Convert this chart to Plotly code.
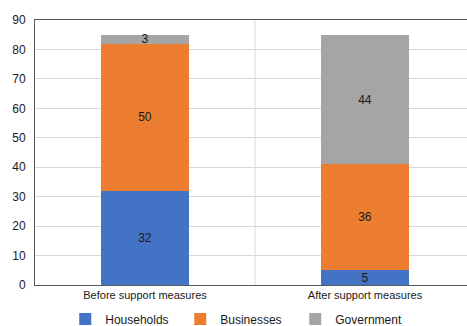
import plotly.graph_objects as go

categories = ["Before support measures", "After support measures"]
households = [32, 5]
businesses = [50, 36]
government = [3, 44]
y_ticks = [0, 10, 20, 30, 40, 50, 60, 70, 80, 90]

font_family = "Liberation Sans, Arial, sans-serif"

fig = go.Figure()
series = [
    ("Households", households, "#4472C4"),
    ("Businesses", businesses, "#ED7D31"),
    ("Government", government, "#A5A5A5"),
]
for name, vals, color in series:
    fig.add_trace(go.Bar(
        x=categories, y=vals, name=name,
        marker=dict(color=color, line=dict(width=0)),
        text=[str(v) for v in vals], textposition="inside",
        insidetextanchor="middle", textangle=0,
        textfont=dict(color="#1a1a1a", size=12, family=font_family),
        width=0.4,
    ))

fig.update_layout(
    barmode="stack",
    width=467, height=326,
    margin=dict(l=35, r=0, t=20, b=41, autoexpand=False),
    paper_bgcolor="white", plot_bgcolor="white",
    font=dict(family=font_family, size=11, color="#1a1a1a"),
    uniformtext=dict(minsize=12, mode="show"),
    showlegend=True,
    legend=dict(orientation="h", x=0.07, xanchor="left", y=-0.074, yanchor="top",
                font=dict(size=12, color="#1a1a1a"), traceorder="normal",
                entrywidth=70, entrywidthmode="pixels"),
    shapes=[dict(type="line", xref="x", yref="paper", x0=0.5, x1=0.5, y0=0, y1=1,
                 line=dict(color="#D9D9D9", width=1), layer="below")],
)
fig.update_xaxes(range=[-0.5, -0.5 + 432 / 220], showline=True, linecolor="#595959",
                 linewidth=1, mirror=True, showgrid=False, ticks="", tickfont=dict(size=11))
fig.update_yaxes(range=[0, 90], tickvals=y_ticks, showline=True, linecolor="#595959",
                 linewidth=1, showgrid=True, gridcolor="#D9D9D9", gridwidth=1,
                 zeroline=False, ticks="", ticklabelstandoff=6, tickfont=dict(size=12))

fig.write_html("out.html")
